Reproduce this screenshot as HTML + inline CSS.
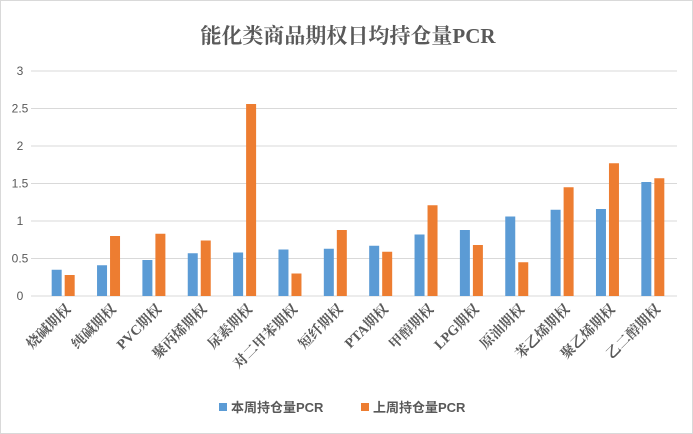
<!DOCTYPE html>
<html><head><meta charset="utf-8"><style>
html,body{margin:0;padding:0;background:#fff}
body{width:693px;height:434px;overflow:hidden}
svg{display:block}
</style></head><body>
<svg id="chart" width="693" height="434" xmlns="http://www.w3.org/2000/svg">
<rect x="0.5" y="0.5" width="692" height="433" fill="#fff" stroke="#d9d9d9"/>
<text x="348" y="43" text-anchor="middle" font-family="'Liberation Serif','Noto Serif CJK SC',serif" font-weight="bold" font-size="21" fill="#595959">能化类商品期权日均持仓量PCR</text>
<g id="grid"></g><g id="bars"></g><g id="xlabels"></g>
<g>
<rect x="219" y="403" width="8" height="8" fill="#5b9bd5"/>
<text x="231" y="412" font-family="'Liberation Sans','Noto Sans CJK SC',sans-serif" font-size="13" font-weight="bold" fill="#595959">本周持仓量PCR</text>
<rect x="361" y="403" width="8" height="8" fill="#ed7d31"/>
<text x="373" y="412" font-family="'Liberation Sans','Noto Sans CJK SC',sans-serif" font-size="13" font-weight="bold" fill="#595959">上周持仓量PCR</text>
</g>
</svg>
<script>
const categories=["烧碱期权","纯碱期权","PVC期权","聚丙烯期权","尿素期权","对二甲苯期权","短纤期权","PTA期权","甲醇期权","LPG期权","原油期权","苯乙烯期权","聚乙烯期权","乙二醇期权"];
const thisWeek=[0.35,0.41,0.48,0.57,0.58,0.62,0.63,0.67,0.82,0.88,1.06,1.15,1.16,1.52];
const lastWeek=[0.28,0.80,0.83,0.74,2.56,0.30,0.88,0.59,1.21,0.68,0.45,1.45,1.77,1.57];
const yTicks=[0,0.5,1,1.5,2,2.5,3];
const yTickLabels=["0","0.5","1","1.5","2","2.5","3"];
const NS="http://www.w3.org/2000/svg";
const x0=41,x1=676,yBase=296,yTop=71,yMax=3;
const bw=(x1-x0)/categories.length;
function y(v){return yBase-(v/yMax)*(yBase-yTop);}
function cx(i){return x0+bw*(i+0.5);}
function mk(tag,attrs,parent){const e=document.createElementNS(NS,tag);for(const k in attrs)e.setAttribute(k,attrs[k]);parent.appendChild(e);return e;}
const grid=document.getElementById('grid'),bars=document.getElementById('bars'),xl=document.getElementById('xlabels');
yTicks.forEach((t,i)=>{
  const l=mk('line',{x1:31,x2:677,y1:y(t),y2:y(t),stroke:'#d9d9d9','stroke-width':1},grid);
  
  
  const tx=mk('text',{x:20,y:y(t)+4,'text-anchor':'middle','font-family':"'Liberation Sans',sans-serif",'font-size':12,fill:'#595959'},grid);
  tx.textContent=yTickLabels[i];
  
  
});
categories.forEach((c,i)=>{
  const c0=cx(i);
  const b1=mk('rect',{x:c0-12,y:y(thisWeek[i]),width:10,height:yBase-y(thisWeek[i]),fill:'#5b9bd5'},bars);
  
  
  const b2=mk('rect',{x:c0+1,y:y(lastWeek[i]),width:10,height:yBase-y(lastWeek[i]),fill:'#ed7d31'},bars);
  
  
  const t=mk('text',{x:c0+8,y:310,'text-anchor':'end',transform:`rotate(-45 ${c0+8} 310)`,'font-family':"'Liberation Serif','Noto Serif CJK SC',serif",'font-weight':'bold','font-size':14,fill:'#595959'},xl);
  t.textContent=c;
  
  
});
</script>
</body></html>
